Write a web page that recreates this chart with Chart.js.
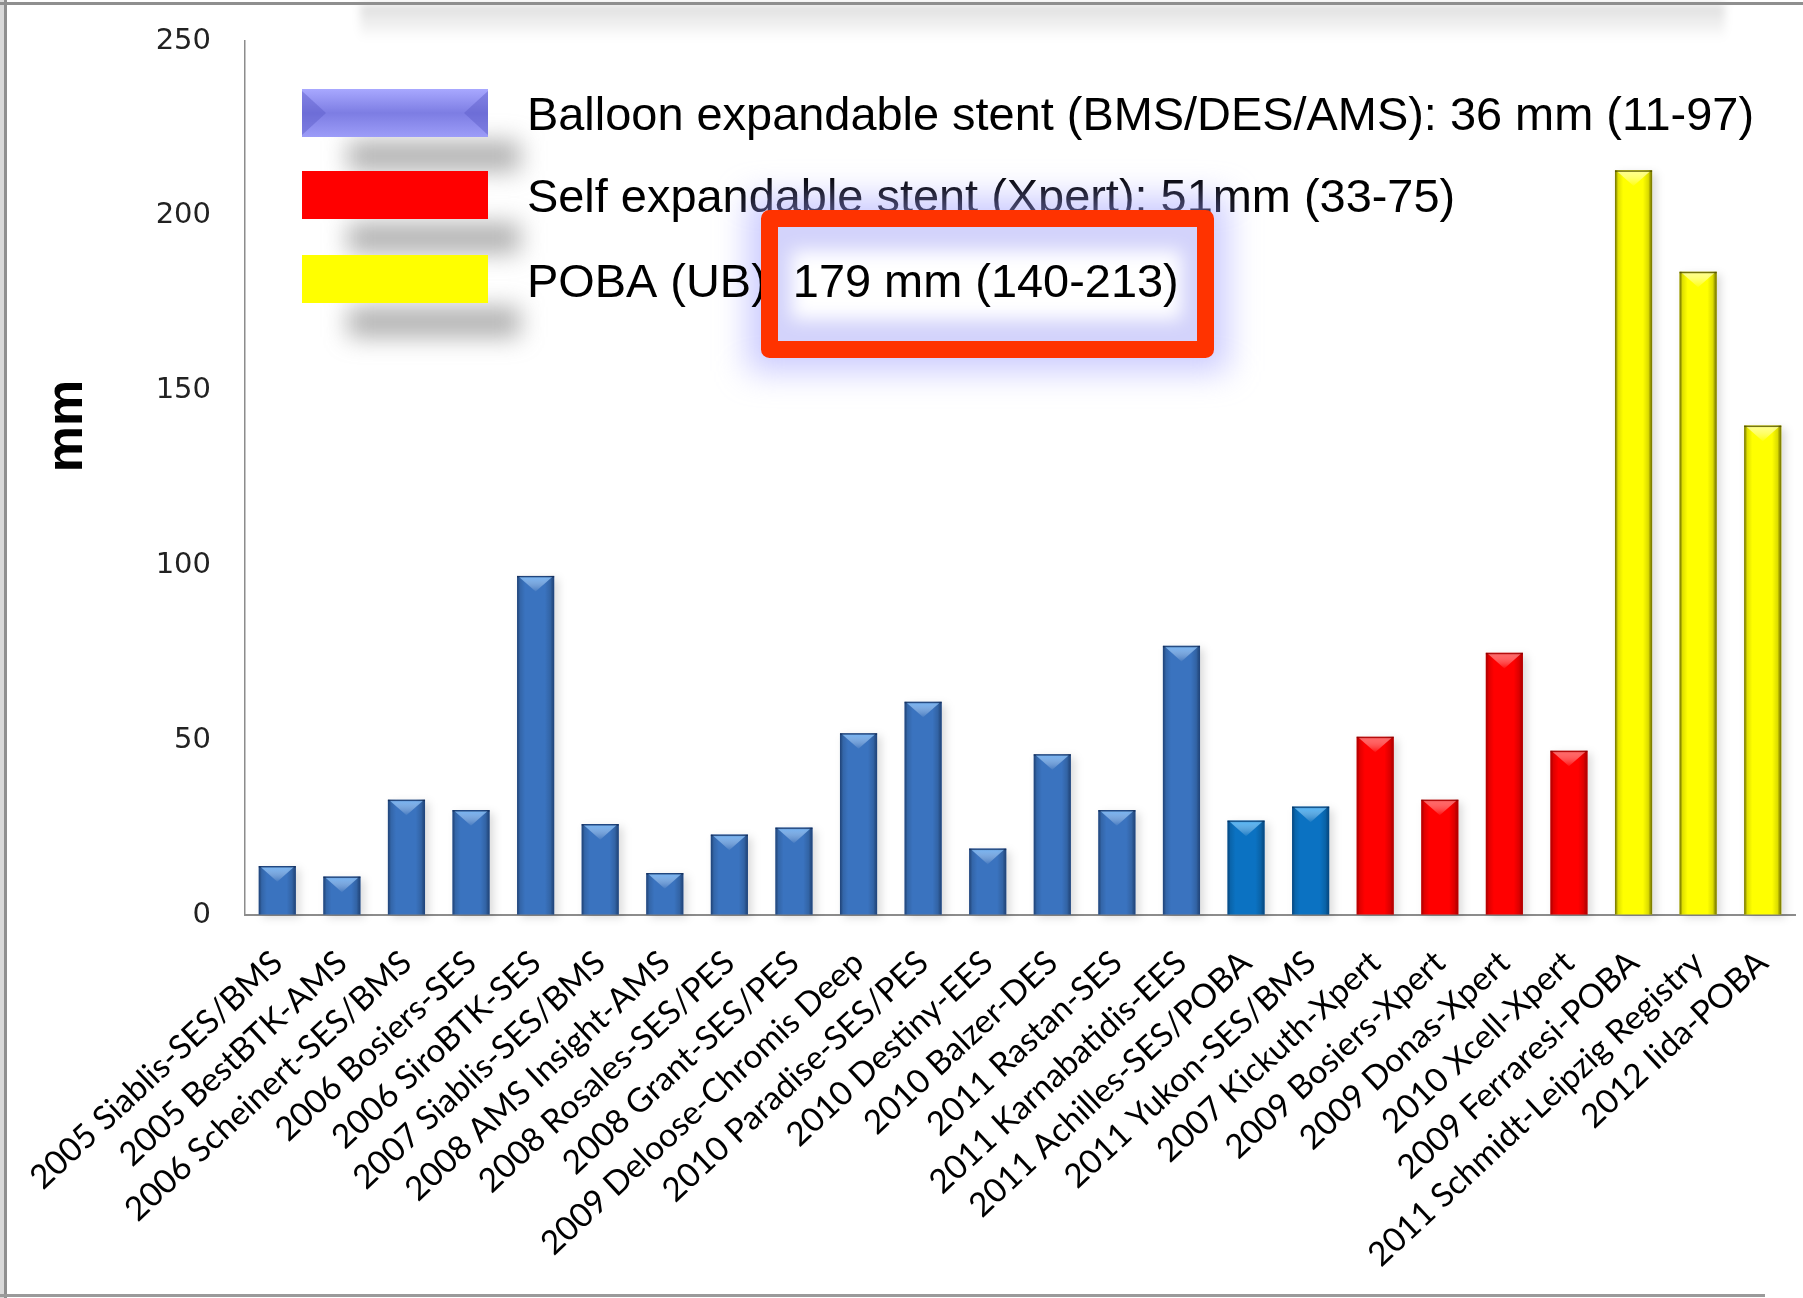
<!DOCTYPE html>
<html>
<head>
<meta charset="utf-8">
<script src="https://cdn.jsdelivr.net/npm/chart.js@4.4.0/dist/chart.umd.min.js"></script>
<style>
  html, body { margin: 0; padding: 0; background: #fff; }
  canvas { display: block; }
</style>
</head>
<body>
<canvas id="chart" width="1803" height="1298"></canvas>
<script>
// Studies, in the order they are plotted
const studies = [
  '2005 Siablis-SES/BMS', '2005 BestBTK-AMS', '2006 Scheinert-SES/BMS', '2006 Bosiers-SES',
  '2006 SiroBTK-SES', '2007 Siablis-SES/BMS', '2008 AMS Insight-AMS', '2008 Rosales-SES/PES',
  '2008 Grant-SES/PES', '2009 Deloose-Chromis Deep', '2010 Paradise-SES/PES', '2010 Destiny-EES',
  '2010 Balzer-DES', '2011 Rastan-SES', '2011 Karnabatidis-EES', '2011 Achilles-SES/POBA',
  '2011 Yukon-SES/BMS', '2007 Kickuth-Xpert', '2009 Bosiers-Xpert', '2009 Donas-Xpert',
  '2010 Xcell-Xpert', '2009 Ferraresi-POBA', '2011 Schmidt-Leipzig Registry', '2012 Iida-POBA'
];

// Mean lesion length per study (mm)
const lesionLength = [14, 11, 33, 30, 97, 26, 12, 23, 25, 52, 61, 19, 46, 30, 77, 27, 31, 51, 33, 75, 47, 213, 184, 140];

// Treatment group of each study
const studyGroup = [
  'bes', 'bes', 'bes', 'bes', 'bes', 'bes', 'bes', 'bes', 'bes', 'bes', 'bes', 'bes',
  'bes', 'bes', 'bes', 'besRct', 'besRct', 'ses', 'ses', 'ses', 'ses', 'poba', 'poba', 'poba'
];

const yTicks = [0, 50, 100, 150, 200, 250];

const legendLabels = [
  'Balloon expandable stent (BMS/DES/AMS): 36 mm (11-97)',
  'Self expandable stent (Xpert): 51mm (33-75)',
  'POBA (UB): 179 mm (140-213)'
];

// Fill colours and bevel shading for each group
const tones = {
  bes:    { fill: '#3a73bf', edge: 'rgba(10,30,70,0.55)',  hi: 'rgba(120,185,250,0.9)' },
  besRct: { fill: '#0b72c2', edge: 'rgba(0,30,70,0.5)',    hi: 'rgba(90,190,255,0.9)' },
  ses:    { fill: '#ff0000', edge: 'rgba(110,0,0,0.5)',    hi: 'rgba(255,110,110,0.9)' },
  poba:   { fill: '#ffff00', edge: 'rgba(70,70,0,0.75)',   hi: 'rgba(255,255,150,0.95)' }
};
const legendSwatch = ['#8585ee', '#ff0000', '#ffff00'];

const canvas = document.getElementById('chart');
const ctx = canvas.getContext('2d');

// Size the category labels so the first one spans its measured length
ctx.font = '40px Lato';
const labelFont = Math.round(40 * 330 / ctx.measureText(studies[0]).width * 10) / 10;

// Page frame, shadow band at the top
const framePlugin = {
  id: 'frame',
  beforeDraw(chart) {
    const c = chart.ctx;
    const W = chart.width, H = chart.height;
    c.save();
    c.fillStyle = '#ffffff';
    c.fillRect(0, 0, W, H);
    const sh = c.createLinearGradient(0, 5, 0, 40);
    sh.addColorStop(0, 'rgba(0,0,0,0.13)');
    sh.addColorStop(1, 'rgba(0,0,0,0)');
    c.fillStyle = sh;
    c.filter = 'blur(4px)';
    c.fillRect(360, 4, 1365, 36);
    c.filter = 'none';
    c.fillStyle = '#d9d9d9';
    c.fillRect(0, 0, 4, H);
    c.fillStyle = '#8f8f8f';
    c.fillRect(4, 0, 3, H);
    c.fillRect(0, 2, W, 3);
    c.fillStyle = '#9a9a9a';
    c.fillRect(0, H - 4, 1765, 3);
    c.restore();
  }
};

// Soft drop shadow behind every bar and a bevelled look on top of it
const bevelPlugin = {
  id: 'bevel',
  beforeDatasetsDraw(chart) {
    const c = chart.ctx;
    const meta = chart.getDatasetMeta(0);
    c.save();
    c.filter = 'blur(4px)';
    c.fillStyle = 'rgba(0,0,0,0.14)';
    meta.data.forEach(bar => {
      const p = bar.getProps(['x', 'y', 'base', 'width'], true);
      c.fillRect(p.x - p.width / 2 + 4, p.y + 3, p.width, p.base - p.y);
    });
    c.restore();
  },
  afterDatasetsDraw(chart) {
    const c = chart.ctx;
    const meta = chart.getDatasetMeta(0);
    meta.data.forEach((bar, i) => {
      const p = bar.getProps(['x', 'y', 'base', 'width'], true);
      const tone = tones[studyGroup[i]];
      const l = p.x - p.width / 2, r = p.x + p.width / 2, t = p.y, b = p.base, w = p.width;
      c.save();
      const g = c.createLinearGradient(l, 0, r, 0);
      g.addColorStop(0, tone.edge);
      g.addColorStop(0.08, 'rgba(0,0,0,0.12)');
      g.addColorStop(0.22, 'rgba(0,0,0,0)');
      g.addColorStop(0.75, 'rgba(0,0,0,0)');
      g.addColorStop(0.9, 'rgba(0,0,0,0.14)');
      g.addColorStop(1, tone.edge);
      c.fillStyle = g;
      c.fillRect(l, t, w, b - t);
      // lighter chevron at the top
      const depth = Math.min(w * 0.42, (b - t) * 0.5);
      const hg = c.createLinearGradient(0, t, 0, t + depth);
      hg.addColorStop(0, tone.hi);
      hg.addColorStop(1, 'rgba(255,255,255,0.05)');
      c.fillStyle = hg;
      c.beginPath();
      c.moveTo(l + 2, t + 1);
      c.lineTo(r - 2, t + 1);
      c.lineTo(p.x, t + depth);
      c.closePath();
      c.fill();
      c.fillStyle = tone.edge;
      c.fillRect(l, t, w, 1.5);
      c.restore();
    });
  }
};

// Axis title, legend block and highlighted summary
const annotationPlugin = {
  id: 'annotations',
  afterDraw(chart) {
    const c = chart.ctx;
    c.save();
    // axis title
    c.font = 'bold 52px "Liberation Sans"';
    c.fillStyle = '#000';
    c.textAlign = 'center';
    c.textBaseline = 'alphabetic';
    c.translate(82, 426);
    c.rotate(-Math.PI / 2);
    c.fillText('mm', 0, 0);
    c.restore();

    // legend swatches with their shadows
    const swX = 302, swW = 186, swH = 48;
    const swY = [89, 171, 255];
    c.save();
    c.filter = 'blur(12px)';
    c.fillStyle = 'rgba(110,110,110,0.55)';
    swY.forEach(y => c.fillRect(swX + 46, y + swH + 4, swW - 14, 30));
    c.restore();

    swY.forEach((y, k) => {
      c.save();
      if (k === 0) {
        const g = c.createLinearGradient(0, y, 0, y + swH);
        g.addColorStop(0, '#a8a8ff');
        g.addColorStop(0.5, '#7d7de3');
        g.addColorStop(1, '#9c9cf8');
        c.fillStyle = g;
        c.fillRect(swX, y, swW, swH);
        c.fillStyle = 'rgba(90,90,200,0.45)';
        c.beginPath();
        c.moveTo(swX, y + 2); c.lineTo(swX + 24, y + swH / 2); c.lineTo(swX, y + swH - 2);
        c.closePath(); c.fill();
        c.beginPath();
        c.moveTo(swX + swW, y + 2); c.lineTo(swX + swW - 24, y + swH / 2); c.lineTo(swX + swW, y + swH - 2);
        c.closePath(); c.fill();
      } else {
        c.fillStyle = legendSwatch[k];
        c.fillRect(swX, y, swW, swH);
      }
      c.restore();
    });

    // legend text, horizontally fitted to its measured extent
    const textX = 527, baseY = [130, 212, 297];
    c.save();
    c.font = '46.5px "Liberation Sans"';
    const sx = 1227 / c.measureText(legendLabels[0]).width;
    c.fillStyle = '#000';
    c.textBaseline = 'alphabetic';
    for (let k = 0; k < 2; k++) {
      c.save();
      c.translate(textX, baseY[k]);
      c.scale(sx, 1);
      c.fillText(legendLabels[k], 0, 0);
      c.restore();
    }
    c.restore();

    // highlight box: glow, pale fill
    const bx = 769.5, by = 218.5, bw = 436, bh = 131;
    c.save();
    c.filter = 'blur(16px)';
    c.fillStyle = 'rgba(160,160,255,0.55)';
    c.fillRect(bx - 22, by - 22, bw + 44, bh + 44);
    c.filter = 'none';
    c.fillStyle = '#d3d3fb';
    c.fillRect(bx, by, bw, bh);
    c.filter = 'blur(9px)';
    c.fillStyle = '#ffffff';
    c.fillRect(bx + 22, by + 32, bw - 46, bh - 62);
    c.restore();

    // third legend line on top of the highlight
    c.save();
    c.font = '46.5px "Liberation Sans"';
    c.fillStyle = '#000';
    c.translate(textX, baseY[2]);
    c.scale(sx, 1);
    c.fillText(legendLabels[2], 0, 0);
    c.restore();

    // red frame
    c.save();
    c.strokeStyle = '#ff3300';
    c.lineWidth = 17;
    c.lineJoin = 'round';
    c.strokeRect(bx, by, bw, bh);
    c.restore();
  }
};

new Chart(ctx, {
  type: 'bar',
  data: {
    labels: studies,
    datasets: [{
      data: lesionLength,
      backgroundColor: studyGroup.map(g => tones[g].fill),
      borderWidth: 0,
      barPercentage: 0.575,
      categoryPercentage: 1
    }]
  },
  options: {
    responsive: false,
    animation: false,
    devicePixelRatio: 1,
    layout: { padding: { top: 41, right: 8, left: 0, bottom: 0 } },
    plugins: {
      legend: { display: false },
      tooltip: { enabled: false },
      title: { display: false }
    },
    scales: {
      x: {
        grid: {
          display: true, drawOnChartArea: false, drawTicks: true,
          tickLength: 24, tickColor: 'rgba(0,0,0,0)'
        },
        border: { display: true, color: '#8c8c8c', width: 2 },
        ticks: {
          autoSkip: false,
          minRotation: 43,
          maxRotation: 43,
          padding: 4,
          color: '#000',
          font: { family: 'Lato', size: labelFont }
        },
        afterFit(scale) { scale.height = 1298 - 915; }
      },
      y: {
        min: yTicks[0],
        max: yTicks[yTicks.length - 1],
        afterBuildTicks(scale) { scale.ticks = yTicks.map(v => ({ value: v })); },
        grid: {
          display: true, drawOnChartArea: false, drawTicks: true,
          tickLength: 28, tickColor: 'rgba(0,0,0,0)'
        },
        border: { display: true, color: '#8c8c8c', width: 1.5 },
        ticks: {
          padding: 6,
          color: '#222',
          font: { family: 'DejaVu Sans', size: 29 }
        },
        afterFit(scale) { scale.width = 245; }
      }
    }
  },
  plugins: [framePlugin, bevelPlugin, annotationPlugin]
});
</script>
</body>
</html>
